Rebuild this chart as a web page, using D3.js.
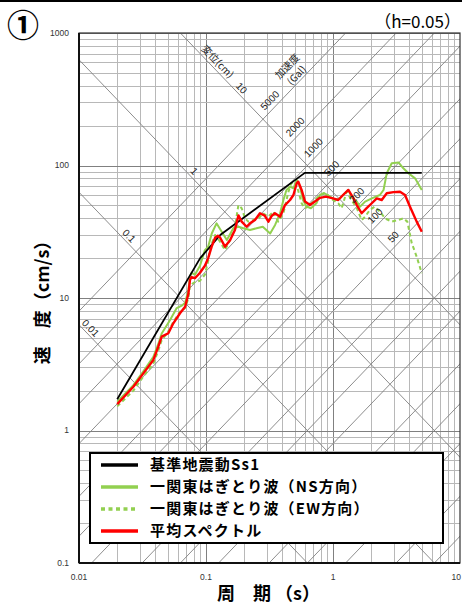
<!DOCTYPE html>
<html>
<head>
<meta charset="utf-8">
<script src="https://cdn.jsdelivr.net/npm/d3@7"></script>
<style>
  body { margin: 0; background: #fff; }
  text { font-family: "Liberation Sans", Arial, sans-serif; }
  .jp { font-family: "Noto Sans CJK JP", sans-serif; }
</style>
</head>
<body>
<svg id="chart"></svg>
<script>
// ---- data ----
var periodTicks = [0.01, 0.1, 1, 10];
var periodTickLabels = ["0.01", "0.1", "1", "10"];
var velTicks = [0.1, 1, 10, 100, 1000];
var velTickLabels = ["0.1", "1", "10", "100", "1000"];

// displacement (cm) and acceleration (Gal) guide lines
var dispValues = [0.01, 0.1, 1, 10];
var dispLabelText = ["0.01", "0.1", "1", "10"];
var dispLabelPeriod = [0.0114, 0.0229, 0.0745, 0.176];
var accValues = [0.1, 0.2, 0.5, 1, 2, 5, 10, 20, 50, 100, 200, 500, 1000, 2000, 5000];
var accLabelValues = [5000, 2000, 1000, 500, 200, 100, 50];
var accLabelPeriod = [0.354, 0.558, 0.778, 1.085, 1.71, 2.38, 3.31];

var legendNames = ["基準地震動Ss1", "一関東はぎとり波（NS方向）", "一関東はぎとり波（EW方向）", "平均スペクトル"];

var ss1Period = [0.02, 0.09, 0.13, 0.6, 5.0];
var ss1Vel = [1.72, 20, 30, 88, 88];

var nsPeriod = [0.02, 0.0268, 0.0321, 0.0385, 0.0421, 0.0448, 0.052, 0.0588, 0.065, 0.0685, 0.0727, 0.0748, 0.077, 0.0818,
  0.0897, 0.098, 0.104, 0.111, 0.121, 0.133, 0.146, 0.164, 0.18, 0.197, 0.222, 0.25, 0.28, 0.32, 0.35, 0.383, 0.407,
  0.43, 0.459, 0.488, 0.518, 0.549, 0.58, 0.62, 0.67, 0.74, 0.79, 0.85, 0.95, 1.04, 1.13, 1.24, 1.32, 1.40, 1.54, 1.63,
  1.79, 2.02, 2.34, 2.50, 2.65, 2.9, 3.28, 3.58, 3.93, 4.43, 5.0];
var nsVel = [1.65, 2.2, 2.8, 3.6, 4.5, 5.4, 6.8, 8.4, 8.8, 9.2, 11.5, 14.5, 15.5, 15.0,
  17.5, 23, 24.4, 30.7, 36.6, 31.6, 27.4, 33.6, 34.5, 33.6, 32.6, 33.6, 34.5, 30.7, 35.6, 43.6, 54.9,
  65.4, 69.4, 67.3, 77.8, 69.4, 54.9, 48.9, 47.6, 51.9, 60, 62, 58.2, 54.9, 56.5, 61.7, 65.4, 58.2, 53.4, 48.9,
  53.4, 56.5, 59.9, 65.3, 87.3, 104, 105.5, 95.3, 87.3, 80, 65.4];

var ewPeriod = [0.02, 0.0268, 0.0321, 0.0385, 0.0421, 0.0448, 0.0505, 0.0553, 0.0624, 0.0685, 0.0727, 0.0748, 0.0818,
  0.0897, 0.098, 0.104, 0.108, 0.118, 0.129, 0.141, 0.155, 0.169, 0.18, 0.191, 0.203, 0.215, 0.237, 0.26, 0.28, 0.31,
  0.34, 0.37, 0.407, 0.446, 0.47, 0.5, 0.53, 0.566, 0.6, 0.64, 0.7, 0.79, 0.88, 1.0, 1.1, 1.17, 1.28, 1.40, 1.54, 1.68,
  1.79, 1.95, 2.13, 2.34, 2.57, 2.9, 3.28, 3.58, 3.85, 4.17, 4.56, 5.0];
var ewVel = [1.52, 2.0, 2.55, 3.2, 4.0, 4.8, 5.6, 6.6, 7.9, 8.4, 10.0, 12.5, 13.2,
  13.5, 15, 19, 24, 29.9, 26.6, 23, 27.4, 34.5, 50.3, 47.6, 39.9, 37.7, 38.8, 39.9, 43.6, 41.1,
  44.9, 37.7, 43.6, 63.4, 73.4, 75.5, 65.4, 51.9, 47.6, 48.9, 53.4, 59.9, 61.7, 54.9, 51.9, 47.6, 63.4, 54.9, 47.6, 38.8,
  41.1, 46.2, 48.9, 44.9, 39.9, 37.7, 38.8, 39.9, 37.7, 25.9, 20.5, 15.4];

var avgPeriod = [0.02, 0.0268, 0.0321, 0.0385, 0.0421, 0.0448, 0.0505, 0.0553, 0.0624, 0.0685, 0.0727, 0.0748, 0.077,
  0.0818, 0.0897, 0.098, 0.104, 0.111, 0.118, 0.124, 0.129, 0.141, 0.155, 0.169, 0.18, 0.191, 0.209, 0.222, 0.243,
  0.266, 0.29, 0.31, 0.33, 0.349, 0.383, 0.419, 0.459, 0.488, 0.518, 0.533, 0.566, 0.602, 0.659, 0.72, 0.791, 0.88,
  1.0, 1.1, 1.2, 1.32, 1.45, 1.54, 1.68, 1.84, 2.02, 2.21, 2.42, 2.65, 2.99, 3.37, 3.69, 4.04, 4.56, 5.0];
var avgVel = [1.58, 2.14, 2.70, 3.41, 4.29, 5.11, 5.42, 6.44, 7.67, 8.6, 10.8, 13.7, 14.4,
  14.1, 15.5, 17.5, 20, 24.5, 28.5, 29.5, 28.6, 24.4, 27.4, 32.6, 42, 37.7, 34.5, 36.6, 38.8,
  43.6, 41.8, 37.7, 41.8, 43.6, 41.1, 50.3, 54.9, 59.9, 73.4, 75.5, 65.4, 53.4, 50.3, 53.4, 57, 58.2,
  56.5, 54.9, 59.9, 65.4, 56.5, 50.3, 43.6, 47.6, 51.9, 56.5, 54.9, 61.7, 63, 63.4, 59.9, 48.9, 37.7, 31.6];

// ---- layout ----
var W = 462, H = 604;
var svg = d3.select("#chart").attr("width", W).attr("height", H);

var x = d3.scaleLog().domain([0.01, 10]).range([79, 460]);
var y = d3.scaleLog().domain([0.1, 1000]).range([563, 33]);
var twoPi = 2 * Math.PI;

// top rule
svg.append("line").attr("x1", 0).attr("x2", W).attr("y1", 1).attr("y2", 1)
  .attr("stroke", "#000").attr("stroke-width", 2);

svg.append("defs").append("clipPath").attr("id", "plotClip").append("rect")
  .attr("x", 79).attr("y", 33).attr("width", 381).attr("height", 530);

var plot = svg.append("g").attr("clip-path", "url(#plotClip)");

// log grid
var xGrid = [], yGrid = [];
[0.01, 0.1, 1].forEach(function(dec) { d3.range(1, 10).forEach(function(k) { xGrid.push(dec * k); }); });
xGrid.push(10);
[0.1, 1, 10, 100].forEach(function(dec) { d3.range(1, 10).forEach(function(k) { yGrid.push(dec * k); }); });
yGrid.push(1000);
function isDecade(v) { return Math.abs(Math.log10(v) - Math.round(Math.log10(v))) < 1e-6; }

plot.selectAll(".vgrid").data(xGrid).enter().append("line")
  .attr("x1", function(d) { return Math.round(x(d)) + 0.5; })
  .attr("x2", function(d) { return Math.round(x(d)) + 0.5; })
  .attr("y1", 33).attr("y2", 563)
  .attr("stroke", function(d) { return isDecade(d) ? "#808080" : "#b8b8b8"; })
  .attr("shape-rendering", "crispEdges");

plot.selectAll(".hgrid").data(yGrid).enter().append("line")
  .attr("y1", function(d) { return Math.round(y(d)) + 0.5; })
  .attr("y2", function(d) { return Math.round(y(d)) + 0.5; })
  .attr("x1", 79).attr("x2", 460)
  .attr("stroke", function(d) { return isDecade(d) ? "#808080" : "#b8b8b8"; })
  .attr("shape-rendering", "crispEdges");

// displacement lines: V = 2*pi*D/T
plot.selectAll(".disp").data(dispValues).enter().append("line")
  .attr("x1", x(0.001)).attr("x2", x(100))
  .attr("y1", function(d) { return y(twoPi * d / 0.001); })
  .attr("y2", function(d) { return y(twoPi * d / 100); })
  .attr("stroke", "#808080").attr("stroke-width", 0.9);

// acceleration lines: V = A*T/(2*pi)
plot.selectAll(".acc").data(accValues).enter().append("line")
  .attr("x1", x(0.001)).attr("x2", x(100))
  .attr("y1", function(d) { return y(d * 0.001 / twoPi); })
  .attr("y2", function(d) { return y(d * 100 / twoPi); })
  .attr("stroke", "#808080").attr("stroke-width", 0.9);

// angle of the diagonals on screen
var ang = Math.atan2(y(1) - y(10), x(1) - x(0.1)) * 180 / Math.PI;

var labels = svg.append("g").attr("font-size", 10).attr("fill", "#222");
dispValues.forEach(function(d, i) {
  var t = dispLabelPeriod[i];
  labels.append("text")
    .attr("transform", "translate(" + x(t) + "," + y(twoPi * d / t) + ") rotate(" + ang + ")")
    .attr("text-anchor", "middle").attr("dy", "-0.25em")
    .text(dispLabelText[i]);
});
labels.append("text").attr("class", "jp")
  .attr("transform", "translate(" + x(0.1125) + "," + y(twoPi * 10 / 0.1125) + ") rotate(" + ang + ")")
  .attr("text-anchor", "middle").attr("dy", "-0.35em")
  .text("変位(cm)");

accLabelValues.forEach(function(a, i) {
  var t = accLabelPeriod[i];
  labels.append("text")
    .attr("transform", "translate(" + x(t) + "," + y(a * t / twoPi) + ") rotate(" + (-ang) + ")")
    .attr("text-anchor", "middle").attr("dy", "-0.45em")
    .text(a);
});
labels.append("text").attr("class", "jp")
  .attr("transform", "translate(" + x(0.56) + "," + y(5000 * 0.56 / twoPi) + ") rotate(" + (-ang) + ")")
  .attr("text-anchor", "middle").attr("dy", "-1.55em")
  .text("加速度");
labels.append("text").attr("class", "jp")
  .attr("transform", "translate(" + x(0.56) + "," + y(5000 * 0.56 / twoPi) + ") rotate(" + (-ang) + ")")
  .attr("text-anchor", "middle").attr("dy", "-0.25em")
  .text("(Gal)");

// spectra
var line = d3.line()
  .x(function(d) { return x(d[0]); })
  .y(function(d) { return y(d[1]); });

var series = [
  { name: legendNames[1], data: d3.zip(nsPeriod, nsVel), color: "#92d050", width: 2, dash: null },
  { name: legendNames[2], data: d3.zip(ewPeriod, ewVel), color: "#92d050", width: 2, dash: "4,3" },
  { name: legendNames[0], data: d3.zip(ss1Period, ss1Vel), color: "#000000", width: 1.8, dash: null },
  { name: legendNames[3], data: d3.zip(avgPeriod, avgVel), color: "#ff0000", width: 2.4, dash: null }
];

plot.selectAll(".curve").data(series).enter().append("path")
  .attr("d", function(s) { return line(s.data); })
  .attr("fill", "none")
  .attr("stroke", function(s) { return s.color; })
  .attr("stroke-width", function(s) { return s.width; })
  .attr("stroke-dasharray", function(s) { return s.dash; })
  .attr("stroke-linejoin", "round");

// frame
svg.append("rect").attr("x", 79).attr("y", 33).attr("width", 381).attr("height", 530)
  .attr("fill", "none").attr("stroke", "#333").attr("stroke-width", 1.2);
svg.append("line").attr("x1", 79).attr("x2", 79).attr("y1", 33).attr("y2", 563)
  .attr("stroke", "#111").attr("stroke-width", 2);
svg.append("line").attr("x1", 79).attr("x2", 460).attr("y1", 563).attr("y2", 563)
  .attr("stroke", "#111").attr("stroke-width", 2);

// tick labels
svg.selectAll(".ylab").data(velTicks).enter().append("text")
  .attr("x", 69).attr("y", function(d) { return y(d); })
  .attr("dy", "0.35em").attr("text-anchor", "end")
  .attr("font-size", 8.5).attr("fill", "#333")
  .text(function(d, i) { return velTickLabels[i]; });

svg.selectAll(".xlab").data(periodTicks).enter().append("text")
  .attr("x", function(d, i) { return i === periodTicks.length - 1 ? W - 1 : x(d); })
  .attr("y", 577)
  .attr("dy", "0.35em")
  .attr("text-anchor", function(d, i) { return i === periodTicks.length - 1 ? "end" : "middle"; })
  .attr("font-size", 8.5).attr("fill", "#333")
  .text(function(d, i) { return periodTickLabels[i]; });

// axis titles
svg.append("text").attr("class", "jp")
  .attr("transform", "translate(49," + ((33 + 563) / 2) + ") rotate(-90)")
  .attr("text-anchor", "middle").attr("font-size", 18).attr("font-weight", "bold")
  .text("速　度（cm/s）");

svg.append("text").attr("class", "jp")
  .attr("x", (79 + 460) / 2 - 1).attr("y", 600)
  .attr("text-anchor", "middle").attr("font-size", 18).attr("font-weight", "bold")
  .text("周　期 （s）");

// corner titles
svg.append("text").attr("class", "jp")
  .attr("x", 7).attr("y", 37)
  .attr("font-size", 32).attr("font-weight", "bold")
  .text("①");
svg.append("text").attr("class", "jp")
  .attr("x", 461).attr("y", 28).attr("text-anchor", "end")
  .attr("font-size", 17)
  .text("（h=0.05）");

// legend
var legend = svg.append("g");
legend.append("rect").attr("x", 90).attr("y", 453).attr("width", 353).attr("height", 90)
  .attr("fill", "#fff").attr("stroke", "#000").attr("stroke-width", 2);
var legendOrder = [2, 0, 1, 3];
legendOrder.forEach(function(si, i) {
  var s = series[si];
  var ly = 465 + i * 22;
  legend.append("line").attr("x1", 101).attr("x2", 138).attr("y1", ly).attr("y2", ly)
    .attr("stroke", s.color).attr("stroke-width", 3.5)
    .attr("stroke-dasharray", s.dash ? "4,3.5" : null);
  legend.append("text").attr("class", "jp")
    .attr("x", 150).attr("y", ly).attr("dy", "0.36em")
    .attr("font-size", 15).attr("font-weight", "bold")
    .attr("letter-spacing", 1.2)
    .text(s.name);
});
</script>
</body>
</html>
